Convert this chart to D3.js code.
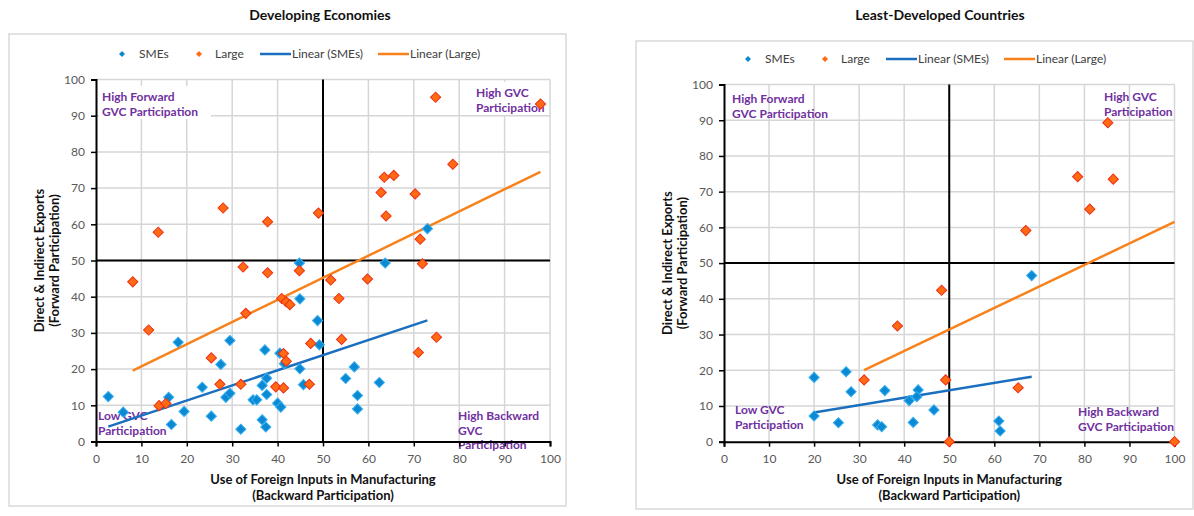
<!DOCTYPE html>
<html>
<head>
<meta charset="utf-8">
<script src="https://cdn.jsdelivr.net/npm/d3@7"></script>
<style>
body { margin: 0; background: #fff; }
text { font-family: Lato, "Open Sans", sans-serif; }
</style>
</head>
<body>
<svg id="chart" width="1194" height="516"></svg>
<script>
// values
const tickValues = [0, 10, 20, 30, 40, 50, 60, 70, 80, 90, 100];
const legendLabels = ["SMEs", "Large", "Linear (SMEs)", "Linear (Large)"];
const xTitle = ["Use of Foreign Inputs in Manufacturing", "(Backward Participation)"];
const yTitle = ["Direct & Indirect Exports", "(Forward Participation)"];

const devSmes = [
    [2.7, 12.4], [6.0, 8.1], [16.0, 12.2], [16.6, 4.7], [18.1, 27.4], [19.4, 8.3],
    [23.4, 15.0], [25.4, 7.0], [27.5, 21.3], [28.6, 12.2], [29.5, 13.3], [29.5, 27.9],
    [31.9, 3.4], [34.6, 11.5], [35.4, 11.5], [36.6, 15.5], [36.6, 6.0], [37.2, 25.3],
    [37.4, 4.0], [37.6, 17.5], [37.6, 13.0], [40.0, 10.6], [40.7, 9.5], [40.5, 24.4],
    [41.5, 21.5], [44.9, 20.1], [44.8, 49.3], [44.9, 39.4], [45.7, 15.7], [48.8, 33.4],
    [49.2, 26.7], [55.0, 17.4], [56.9, 20.6], [57.6, 12.7], [57.6, 9.0], [62.4, 16.3],
    [63.7, 49.3], [73.0, 58.8]
];
const devLarge = [
    [8.1, 44.1], [11.6, 30.8], [13.7, 57.8], [13.9, 9.9], [15.4, 10.5], [25.4, 23.1],
    [27.3, 15.8], [28.0, 64.5], [31.9, 15.8], [32.4, 48.2], [33.0, 35.4], [37.8, 46.6],
    [37.8, 60.7], [39.6, 15.1], [40.9, 39.5], [41.3, 24.3], [41.3, 14.8], [41.9, 38.6],
    [41.9, 22.2], [42.7, 37.8], [44.8, 47.2], [47.0, 15.8], [47.3, 27.1], [49.0, 63.1],
    [51.7, 44.6], [53.5, 39.5], [54.1, 28.2], [59.8, 44.9], [62.8, 68.8], [63.5, 73.0],
    [63.9, 62.3], [65.6, 73.5], [70.3, 68.4], [71.0, 24.6], [71.4, 55.9], [71.9, 49.1],
    [74.8, 95.1], [75.0, 28.8], [78.6, 76.6], [97.9, 93.2]
];
const ldcSmes = [
    [20.0, 18.0], [27.1, 19.6], [28.2, 14.0], [35.7, 14.3], [41.1, 11.5], [43.1, 14.5],
    [42.8, 12.6], [46.6, 8.9], [20.0, 7.2], [25.4, 5.3], [34.1, 4.7], [35.0, 4.2],
    [42.0, 5.4], [61.0, 5.8], [61.3, 3.0], [68.3, 46.5]
];
const ldcLarge = [
    [31.1, 17.3], [38.5, 32.4], [48.3, 42.4], [49.2, 17.3], [50.0, 0], [65.3, 15.1],
    [67.0, 59.1], [78.5, 74.2], [81.2, 65.1], [85.2, 89.3], [86.4, 73.5], [100, 0]
];

const devQuadrants = [
    ["High Forward", "GVC Participation"],
    ["High GVC", "Participation"],
    ["Low GVC", "Participation"],
    ["High Backward", "GVC", "Participation"]
];
const ldcQuadrants = [
    ["High Forward", "GVC Participation"],
    ["High GVC", "Participation"],
    ["Low GVC", "Participation"],
    ["High Backward", "GVC Participation"]
];

const colors = {
    smeFill: "#0b89d3", smeStroke: "#35aef0",
    largeFill: "#ff6a12", largeStroke: "#ee2f17",
    smeLine: "#1a6fbf", largeLine: "#f7821b",
    purple: "#7030a0", grid: "#d6d6d6"
};

const panels = [
    {
        title: "Developing Economies", smes: devSmes, large: devLarge, quads: devQuadrants,
        frame: [9, 34, 566, 506], titleX: 320, titleY: 20,
        px: [96, 550], py: [441.5, 79.5], legendX: 122, legendY: 54,
        quadPos: [[102, 97, true], [476, 93, true], [98, 416, false], [458, 416, false]]
    },
    {
        title: "Least-Developed Countries", smes: ldcSmes, large: ldcLarge, quads: ldcQuadrants,
        frame: [636, 41, 1193, 509], titleX: 940, titleY: 20,
        px: [724, 1174.5], py: [441.7, 84.5], legendX: 748, legendY: 59,
        quadPos: [[732, 99, false], [1104, 97, false], [735, 410, false], [1078, 412, false]]
    }
];

const svg = d3.select("#chart");
const diamond = d3.symbol(d3.symbolSquare, 52);
const smallDiamond = d3.symbol(d3.symbolSquare, 18);

// least squares line over the range of the series, like the Excel trendline
const fit = function (pts) {
    const mx = d3.mean(pts, d => d[0]);
    const my = d3.mean(pts, d => d[1]);
    const sxy = d3.sum(pts, d => (d[0] - mx) * (d[1] - my));
    const sxx = d3.sum(pts, d => (d[0] - mx) * (d[0] - mx));
    const b = sxy / sxx, a = my - b * mx;
    const [lo, hi] = d3.extent(pts, d => d[0]);
    return [[lo, a + b * lo], [hi, a + b * hi]];
};

panels.forEach(function (p) {
    const g = svg.append("g");
    const x = d3.scaleLinear().domain([0, 100]).range(p.px);
    const y = d3.scaleLinear().domain([0, 100]).range(p.py);

    g.append("text").attr("x", p.titleX).attr("y", p.titleY)
        .attr("text-anchor", "middle").attr("font-size", 14).attr("font-weight", 700)
        .attr("fill", "#111").text(p.title);

    g.append("rect").attr("x", p.frame[0]).attr("y", p.frame[1])
        .attr("width", p.frame[2] - p.frame[0]).attr("height", p.frame[3] - p.frame[1])
        .attr("fill", "#fff").attr("stroke", "#d9d9d9").attr("stroke-width", 1.5);

    // grid
    g.append("g").selectAll("line.v").data(tickValues.slice(1)).join("line")
        .attr("x1", d => x(d)).attr("x2", d => x(d)).attr("y1", y(0)).attr("y2", y(100))
        .attr("stroke", colors.grid).attr("stroke-width", 1.5);
    g.append("g").selectAll("line.h").data(tickValues.slice(1)).join("line")
        .attr("x1", x(0)).attr("x2", x(100)).attr("y1", d => y(d)).attr("y2", d => y(d))
        .attr("stroke", colors.grid).attr("stroke-width", 1.5);

    // quadrant labels
    p.quads.forEach(function (lines, i) {
        const [lx, ly, boxed] = p.quadPos[i];
        const lg = g.append("g");
        if (boxed) {
            const w = Math.min(112, x(100) - lx + 1);
            lg.append("rect").attr("x", lx - 3).attr("y", ly - 11)
                .attr("width", w).attr("height", lines.length * 14.5 + 4).attr("fill", "#fff");
        }
        lg.selectAll("text").data(lines).join("text")
            .attr("x", lx).attr("y", (d, j) => ly + 4 + j * 14.5)
            .attr("font-size", 12).attr("font-weight", 700).attr("fill", colors.purple)
            .text(d => d);
    });

    // axes
    const yAxis = g.append("g").attr("transform", `translate(${x(0)},0)`)
        .call(d3.axisLeft(y).tickValues(tickValues).tickSize(5).tickPadding(6));
    const xAxis = g.append("g").attr("transform", `translate(0,${y(0)})`)
        .call(d3.axisBottom(x).tickValues(tickValues).tickSize(5).tickPadding(8));
    [yAxis, xAxis].forEach(function (a) {
        a.select(".domain").attr("stroke", "#000").attr("stroke-width", 2);
        a.selectAll(".tick line").attr("stroke", "#000").attr("stroke-width", 1.5);
        a.selectAll(".tick text").attr("font-size", 12).attr("fill", "#595959")
            .attr("font-family", "Lato, sans-serif");
    });

    // quadrant dividers at 50
    g.append("line").attr("x1", x(50)).attr("x2", x(50)).attr("y1", y(0)).attr("y2", y(100))
        .attr("stroke", "#000").attr("stroke-width", 2);
    g.append("line").attr("x1", x(0)).attr("x2", x(100)).attr("y1", y(50)).attr("y2", y(50))
        .attr("stroke", "#000").attr("stroke-width", 2);

    // axis titles
    const cx = (p.px[0] + p.px[1]) / 2;
    g.append("g").selectAll("text").data(xTitle).join("text")
        .attr("x", cx).attr("y", (d, i) => y(0) + 42 + i * 16)
        .attr("text-anchor", "middle").attr("font-size", 13).attr("font-weight", 700)
        .attr("fill", "#111").text(d => d);
    const cy = (p.py[0] + p.py[1]) / 2;
    g.append("g").selectAll("text").data(yTitle).join("text")
        .attr("transform", (d, i) => `translate(${x(0) - 52 + i * 15},${cy}) rotate(-90)`)
        .attr("text-anchor", "middle").attr("font-size", 13).attr("font-weight", 700)
        .attr("fill", "#111").text(d => d);

    // trend lines
    const line = d3.line().x(d => x(d[0])).y(d => y(d[1]));
    g.append("path").attr("d", line(fit(p.smes))).attr("fill", "none")
        .attr("stroke", colors.smeLine).attr("stroke-width", 2.5);
    g.append("path").attr("d", line(fit(p.large))).attr("fill", "none")
        .attr("stroke", colors.largeLine).attr("stroke-width", 2.5);

    // points
    g.append("g").selectAll("path").data(p.smes).join("path")
        .attr("d", diamond)
        .attr("transform", d => `translate(${x(d[0])},${y(d[1])}) rotate(45)`)
        .attr("fill", colors.smeFill).attr("stroke", colors.smeStroke).attr("stroke-width", 1);
    g.append("g").selectAll("path").data(p.large).join("path")
        .attr("d", diamond)
        .attr("transform", d => `translate(${x(d[0])},${y(d[1])}) rotate(45)`)
        .attr("fill", colors.largeFill).attr("stroke", colors.largeStroke).attr("stroke-width", 1);

    // legend
    const lx = p.legendX, ly = p.legendY;
    const leg = g.append("g");
    leg.append("path").attr("d", smallDiamond)
        .attr("transform", `translate(${lx},${ly}) rotate(45)`).attr("fill", colors.smeFill);
    leg.append("path").attr("d", smallDiamond)
        .attr("transform", `translate(${lx + 77},${ly}) rotate(45)`).attr("fill", colors.largeFill);
    leg.append("line").attr("x1", lx + 138).attr("x2", lx + 169).attr("y1", ly).attr("y2", ly)
        .attr("stroke", colors.smeLine).attr("stroke-width", 2.5);
    leg.append("line").attr("x1", lx + 256).attr("x2", lx + 287).attr("y1", ly).attr("y2", ly)
        .attr("stroke", colors.largeLine).attr("stroke-width", 2.5);
    const textX = [lx + 17, lx + 93, lx + 170, lx + 288];
    leg.selectAll("text").data(legendLabels).join("text")
        .attr("x", (d, i) => textX[i]).attr("y", ly + 4)
        .attr("font-size", 12).attr("fill", "#404040").text(d => d);
});
</script>
</body>
</html>
